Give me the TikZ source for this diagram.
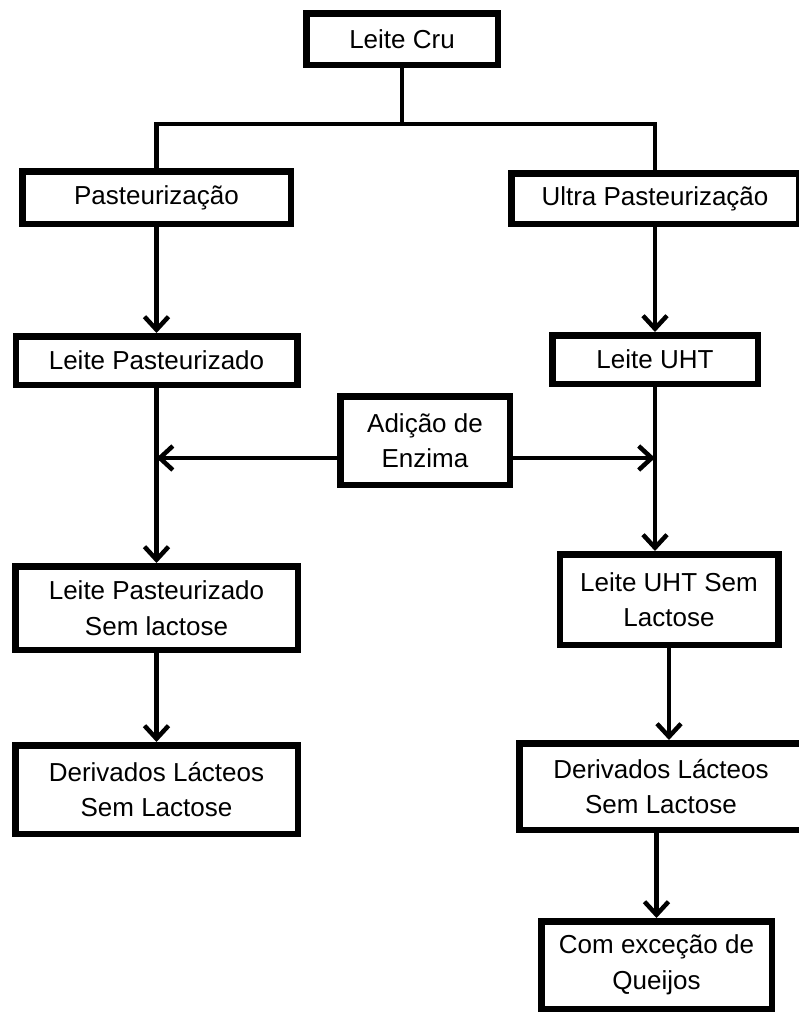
\documentclass[tikz,border=0pt]{standalone}
\usepackage{fontspec}
\setmainfont{Liberation Sans}
\usetikzlibrary{arrows.meta,positioning}
\tikzset{
  box/.style={rectangle,draw,line width=6.5pt,align=center,inner sep=2pt,
    font=\fontsize{26}{35.5}\selectfont},
  link/.style={draw,line width=4.5pt}
}

\begin{document}
\begin{tikzpicture}[
    node distance=100pt,
    >={Straight Barb[length=13pt,width=24pt]}
]
\useasboundingbox (0,0) rectangle (798pt,-1012pt);

% =========================================================
% Raw milk and the two heat treatments
% =========================================================

\node[box,minimum width=191.5pt,minimum height=51.5pt] (cru) at (402pt,-39pt) {Leite Cru};

\node[box,minimum width=268.5pt,minimum height=52.5pt] (past) at (156.5pt,-197.5pt) {Pasteurização};
\node[box,minimum width=287.5pt,minimum height=50.5pt] (ultra) at (655pt,-198.5pt) {Ultra Pasteurização};

\coordinate[below=56pt of cru] (split);

\draw[link] (cru) -- (split);
\draw[link] (past) |- (split) -| (ultra);


% =========================================================
% Left column
% =========================================================

\node[box,below=106pt of past,minimum width=281.5pt,minimum height=48.5pt] (lpast) {Leite Pasteurizado};
\node[box,below=175pt of lpast,minimum width=282.5pt,minimum height=83.5pt] (lpsl) {Leite Pasteurizado\\Sem lactose};
\node[box,below=89pt of lpsl,minimum width=282.5pt,minimum height=88.5pt] (derl) {Derivados Lácteos\\Sem Lactose};

\draw[link,->] (past) -- (lpast);
\draw[link,->] (lpast) -- (lpsl);
\draw[link,->] (lpsl) -- (derl);


% =========================================================
% Right column
% =========================================================

\node[box,below=105pt of ultra,minimum width=205.5pt,minimum height=48.5pt] (luht) {Leite UHT};
\node[box,below=164pt of luht,xshift=14pt,minimum width=218.5pt,minimum height=90.5pt] (luhtsl) {Leite UHT Sem\\Lactose};
\node[box,below=92pt of luhtsl,xshift=-8pt,minimum width=283.5pt,minimum height=86.5pt] (derr) {Derivados Lácteos\\Sem Lactose};
\node[box,below=85pt of derr,xshift=-4.5pt,minimum width=230.5pt,minimum height=87.5pt] (com) {Com exceção de\\Queijos};

\draw[link,->] (ultra) -- (luht);
\draw[link,->] (luht.south) -- (luht.south |- luhtsl.north);
\draw[link,->] (luhtsl.south) -- (luhtsl.south |- derr.north);
\draw[link,->] (com.north |- derr.south) -- (com.north);


% =========================================================
% Enzyme added to both milks
% =========================================================

\node[box,minimum width=169.5pt,minimum height=88.5pt] (enz) at (425pt,-440.5pt) {Adição de\\Enzima};

\draw[link,->] ([yshift=-17.5pt]enz.west) -- ([yshift=-17.5pt]enz.west -| lpast.south);
\draw[link,->] ([yshift=-17.5pt]enz.east) -- ([yshift=-17.5pt]enz.east -| luht.south);

\end{tikzpicture}
\end{document}
